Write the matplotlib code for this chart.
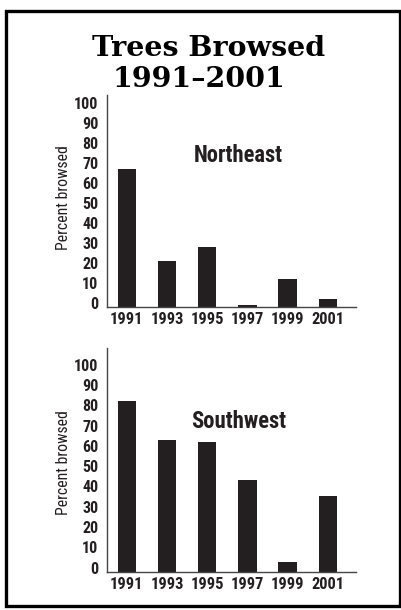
import matplotlib
matplotlib.use("Agg")
import matplotlib.pyplot as plt
from matplotlib.patches import Rectangle
from matplotlib.transforms import ScaledTranslation
from matplotlib import font_manager

years = ["1991", "1993", "1995", "1997", "1999", "2001"]
northeast = [69, 22.7, 30, 1, 13.8, 4]
southwest = [84, 65, 64, 45, 4.7, 37.4]
yticks = [0, 10, 20, 30, 40, 50, 60, 70, 80, 90, 100]

W, H = 402, 610
INK = "#231f20"
names = {f.name for f in font_manager.fontManager.ttflist}
narrow = [n for n in ["Roboto Condensed", "Liberation Sans Narrow", "Roboto", "DejaVu Sans"] if n in names]

fig = plt.figure(figsize=(W / 100, H / 100), dpi=100)


def px_axes(left, top, right, bottom):
    return fig.add_axes([left / W, 1 - bottom / H, (right - left) / W, (bottom - top) / H])


def panel(ax, values, ytop, label, lx, ly, ylab_y):
    x = list(range(len(years)))
    ax.bar(x, values, width=0.46, color=INK)
    ax.set_xlim(-0.5, 5.7)
    ax.set_ylim(0, ytop)
    ax.set_xticks(x)
    ax.set_xticklabels(years, family=narrow, fontweight="bold", fontsize=11.8, color=INK)
    ax.set_yticks(yticks)
    ax.set_yticklabels([str(v) for v in yticks], family=narrow, fontweight="bold",
                       fontsize=11.5, color=INK)
    ax.tick_params(axis="both", length=0)
    ax.tick_params(axis="y", pad=6)
    ax.tick_params(axis="x", pad=3.5)
    off = ScaledTranslation(0, 0.04, fig.dpi_scale_trans)
    for t in ax.get_yticklabels():
        t.set_transform(t.get_transform() + off)
    for s in ["top", "right"]:
        ax.spines[s].set_visible(False)
    for s in ["left", "bottom"]:
        ax.spines[s].set_color("#444444")
        ax.spines[s].set_linewidth(1.0)
    fig.text(64 / W, 1 - ylab_y / H, "Percent browsed", family=narrow, fontsize=11.3,
             color=INK, rotation=90, ha="center", va="center")
    fig.text(lx, ly, label, family=narrow, fontweight="bold",
             fontsize=16.3, color=INK, ha="center", va="center")


ax1 = px_axes(106.7, 95, 356, 306.7)
panel(ax1, northeast, 106, "Northeast", 238.7 / W, 1 - 156 / H, 197.7)

ax2 = px_axes(106.7, 348.3, 356, 571.7)
panel(ax2, southwest, 110, "Southwest", 239 / W, 1 - 421.5 / H, 463)

fig.text(209 / W, 1 - 55.5 / H, "Trees Browsed", family="DejaVu Serif", fontweight="bold",
         fontsize=20.5, color="black", ha="center", va="baseline")
fig.text(199 / W, 1 - 87 / H, "1991\u20132001", family="DejaVu Serif", fontweight="bold",
         fontsize=20.5, color="black", ha="center", va="baseline")

fig.add_artist(Rectangle((6.5 / W, 1 - 605.5 / H), (400.5 - 6.5) / W, (605.5 - 10.5) / H,
                         transform=fig.transFigure, fill=False, lw=2.4, edgecolor="black"))

fig.savefig("out.png", dpi=100)
